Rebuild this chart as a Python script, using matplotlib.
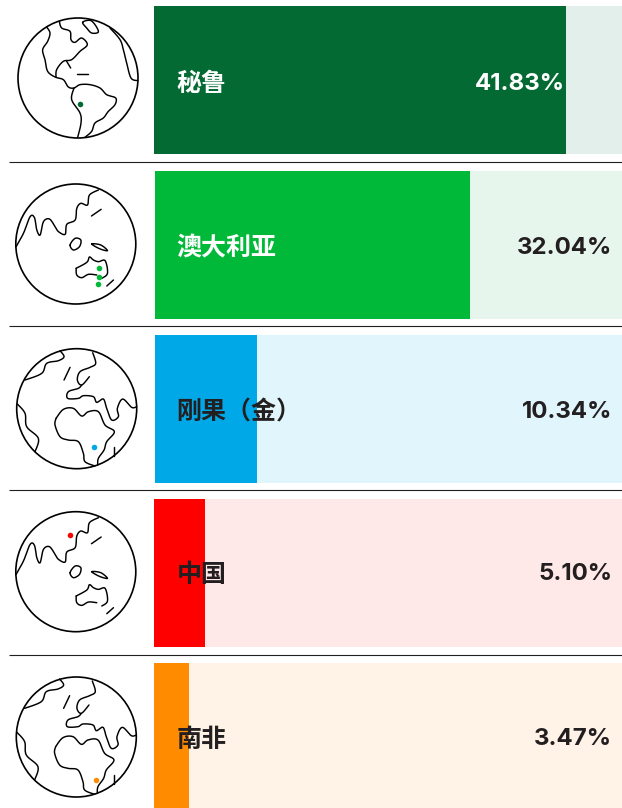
import numpy as np
import matplotlib
matplotlib.use("Agg")
import matplotlib.pyplot as plt

W, H = 622, 808
countries = ["秘鲁", "澳大利亚", "刚果（金）", "中国", "南非"]
shares = [41.83, 32.04, 10.34, 5.10, 3.47]
share_labels = ["41.83%", "32.04%", "10.34%", "5.10%", "3.47%"]
bar_colors = ["#036a33", "#00b938", "#00a8e8", "#ff0000", "#ff8c00"]
track_colors = ["#e3efea", "#e6f6ec", "#e1f5fd", "#ffe8e8", "#fff2e6"]
label_colors = ["white", "white", "#231f20", "#231f20", "#231f20"]
value_colors = ["white", "#231f20", "#231f20", "#231f20", "#231f20"]
axis_max = [47.5, 47.5, 47.5, 46.8, 46.8]
DARK = "#231f20"

row_left = [154, 155, 155, 154, 154]
row_top = [6, 171, 335, 499, 663]
row_height = [148, 148, 148, 148, 145]
label_y = [84, 248, 412, 575, 740]
value_y = [84, 248, 412, 574, 739]
value_right_px = [565, 612, 612, 612, 612]
sep_y = [161.5, 325.5, 489.5, 654.5]

# Globe line work, in 3x-zoomed pixels relative to each globe's centre
AMERICAS = [
    ([(140,82),(150,100),(143,125),(128,150),(135,180),(143,215),(165,232),(190,240),(205,262),(222,265),(240,255),(270,255),(300,265),(320,285),(347,295),(345,315),(325,335),(310,355),(285,370),(275,395),(255,413)], False),
    ([(222,265),(215,300),(240,340),(243,370),(233,413)], False),
    ([(178,65),(185,85),(210,95),(213,120),(225,128),(245,115),(262,135),(240,155),(215,180),(190,185),(170,210),(168,232)], False),
    ([(200,185),(212,205)], False),
    ([(232,224),(265,224)], False),
    ([(248,68),(270,62),(285,75),(295,97),(275,100),(260,85)], True),
    ([(330,85),(360,120),(370,150),(380,190),(393,235),(413,243)], False),
]
AMERICAS_C = (234, 235)
OCEANIA = [
    ([(48,245),(70,205),(90,155),(103,158),(110,195),(120,210),(130,170),(148,162),(165,185),(175,200),(195,208),(200,178),(225,165),(230,130),(242,115),(262,120),(268,90),(295,75)], False),
    ([(274,153),(303,133)], False),
    ([(210,240),(225,220),(242,225),(238,245),(220,255)], True),
    ([(275,237),(302,240),(322,257),(298,251)], True),
    ([(228,310),(260,292),(268,276),(280,285),(295,290),(315,287),(322,325),(305,340)], False),
    ([(228,310),(230,330),(245,338),(265,328),(290,330)], False),
    ([(320,363),(340,345)], False),
]
OCEANIA_C = (227, 237)
AFRICA = [
    ([(75,150),(125,130),(140,100),(175,92),(192,80),(180,62)], False),
    ([(192,150),(210,112)], False),
    ([(278,68),(287,100),(270,112),(240,125),(232,150),(245,165),(268,140)], False),
    ([(245,165),(235,175),(205,185),(203,205),(235,205),(250,197),(280,200),(290,217),(310,207),(320,235),(335,270),(355,260),(352,235),(368,207),(395,232),(410,230)], False),
    ([(168,265),(190,238),(220,235),(245,258),(265,245),(295,245),(315,285),(343,305),(320,335),(312,360),(295,385),(293,405)], False),
    ([(168,265),(165,285),(180,320),(205,330),(235,335),(250,370),(255,395),(285,408)], False),
    ([(343,350),(343,378)], False),
    ([(52,222),(75,250),(80,290),(115,325),(105,365)], False),
]
AFRICA_C = (230, 236)

globe_shapes = [(AMERICAS, AMERICAS_C), (OCEANIA, OCEANIA_C), (AFRICA, AFRICA_C), (OCEANIA, OCEANIA_C), (AFRICA, AFRICA_C)]
globe_centres = [(78, 78), (75.8, 244), (76.7, 408.7), (75.8, 571.7), (76.3, 737)]
GLOBE_R = 60
# Mine locations, in 3x-zoomed pixels relative to the same origin as the shape
mine_dots = [
    [(240, 314)],
    [(297, 310), (298, 337), (294, 356)],
    [(282, 351)],
    [(210, 127)],
    [(290, 364)],
]


def smooth(points, closed):
    p = np.array(points, float)
    if len(p) < 3:
        return p
    if closed:
        q = np.vstack([p[-1], p, p[0], p[1]])
    else:
        q = np.vstack([p[0], p, p[-1]])
    t = np.linspace(0, 1, 9)[:, None]
    out = []
    for i in range(1, len(q) - 2):
        a, b, c, d = q[i - 1], q[i], q[i + 1], q[i + 2]
        out.append(0.5 * (2 * b + (c - a) * t + (2 * a - 5 * b + 4 * c - d) * t ** 2 + (3 * b - a - 3 * c + d) * t ** 3))
    return np.vstack(out)


fig = plt.figure(figsize=(W / 100, H / 100), dpi=100, facecolor="white")

# Pixel-space canvas for globes and separators
canvas = fig.add_axes([0, 0, 1, 1])
canvas.set_xlim(0, W)
canvas.set_ylim(H, 0)
canvas.axis("off")

for y in sep_y:
    canvas.plot([9, W], [y, y], color=DARK, lw=0.8, solid_capstyle="butt")

for i, ((shape, origin), (cx, cy)) in enumerate(zip(globe_shapes, globe_centres)):
    canvas.add_patch(plt.Circle((cx, cy), GLOBE_R, fc="white", ec="black", lw=1.2))
    for pts, closed in shape:
        xy = smooth(pts, closed)
        canvas.plot(cx + (xy[:, 0] - origin[0]) / 3, cy + (xy[:, 1] - origin[1]) / 3,
                    color="black", lw=1.05, solid_joinstyle="round", solid_capstyle="round")
    dots = np.array(mine_dots[i], float)
    canvas.scatter(cx + (dots[:, 0] - origin[0]) / 3, cy + (dots[:, 1] - origin[1]) / 3,
                   s=16, color=bar_colors[i], linewidths=0, zorder=5)

# One bar axes per row
for i in range(len(countries)):
    left, top, h = row_left[i], row_top[i], row_height[i]
    ax = fig.add_axes([left / W, 1 - (top + h) / H, (W - left) / W, h / H])
    ax.set_xlim(0, axis_max[i])
    ax.set_ylim(0, 1)
    ax.axis("off")
    ax.barh(0.5, axis_max[i], height=1, color=track_colors[i], linewidth=0)
    ax.barh(0.5, shares[i], height=1, color=bar_colors[i], linewidth=0)
    fig.text(176.5 / W, 1 - label_y[i] / H, countries[i], color=label_colors[i],
             family=["Noto Sans CJK SC", "DejaVu Sans"], weight="bold", fontsize=18,
             ha="left", va="center", zorder=10)
    fig.text(value_right_px[i] / W, 1 - value_y[i] / H, share_labels[i], color=value_colors[i],
             family=["Inter", "DejaVu Sans"], weight="bold", fontsize=17.3,
             ha="right", va="center", zorder=10)

fig.savefig("out.png", dpi=100, facecolor="white")
